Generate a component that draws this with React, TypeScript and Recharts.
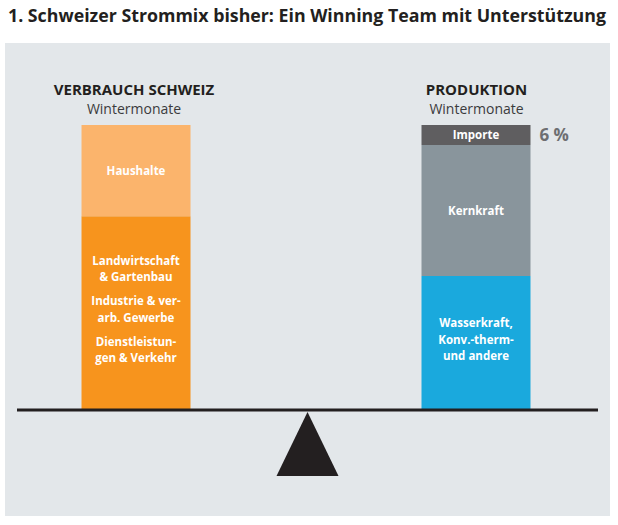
import React from 'react';
import { ComposedChart, Bar, XAxis, YAxis, ReferenceLine, LabelList } from 'recharts';

// ---- data (percent shares of winter electricity, bottom to top) ----
const categories = ['VERBRAUCH SCHWEIZ', 'PRODUKTION'];
const subtitles = ['Wintermonate', 'Wintermonate'];
const verbrauchRest = [68, 0];
const haushalte = [32, 0];
const wasserkraft = [0, 47];
const kernkraft = [0, 46];
const importe = [0, 7];
const importeShareLabel = ['', '6 %'];
const title = '1. Schweizer Strommix bisher: Ein Winning Team mit Unterstützung';

const restLabels: string[][][] = [
  [['Landwirtschaft', '& Gartenbau'], ['Industrie & ver-', 'arb. Gewerbe'], ['Dienstleistun-', 'gen & Verkehr']],
  [],
];
const haushalteLabels: string[][][] = [[['Haushalte']], []];
const wasserLabels: string[][][] = [[], [['Wasserkraft,', 'Konv.-therm-', 'und andere']]];
const kernLabels: string[][][] = [[], [['Kernkraft']]];
const importeLabels: string[][][] = [[], [['Importe']]];

const FONT = "'Open Sans', 'Noto Sans', sans-serif";
const LINE_H = 16.5;
const GROUP_GAP = 7.5;

const makeLabel = (groups: string[][][], extra?: string[]) => (props: any) => {
  const { x, y, width, height, value } = props;
  const index = categories.indexOf(value);
  const g = groups[index];
  if (!g || !g.length || !(height > 0)) return null;
  const lines: { t: string; dy: number }[] = [];
  let off = 0;
  g.forEach((grp, gi) => {
    if (gi > 0) off += GROUP_GAP;
    grp.forEach((t) => {
      lines.push({ t, dy: off });
      off += LINE_H;
    });
  });
  const total = off - LINE_H;
  const cx = x + width / 2;
  const cy = y + height / 2 - (lines.length > 1 ? 3.5 : 0);
  const side = extra ? extra[index] : '';
  return (
    <g>
      {lines.map((l, k) => (
        <text
          key={k}
          x={cx}
          y={cy - total / 2 + l.dy}
          dy="0.35em"
          textAnchor="middle"
          fill="#ffffff"
          fontSize={11.5}
          fontWeight={700}
          fontFamily={FONT}
        >
          {l.t}
        </text>
      ))}
      {side ? (
        <text
          x={x + width + 9}
          y={y + height / 2}
          dy="0.35em"
          textAnchor="start"
          fill="#6d6e71"
          fontSize={17}
          fontWeight={700}
          fontFamily={FONT}
        >
          {side}
        </text>
      ) : null}
    </g>
  );
};

const Beam = (props: any) => {
  const { x1, y1, x2 } = props;
  const mid = (x1 + x2) / 2;
  return (
    <g>
      <line x1={x1} y1={y1} x2={x2} y2={y1} stroke="#231f20" strokeWidth={3} />
      <polygon
        points={`${mid},${y1 + 2} ${mid - 31},${y1 + 66} ${mid + 31},${y1 + 66}`}
        fill="#231f20"
      />
    </g>
  );
};

export default function App() {
  const data = categories.map((c, i) => ({
    idx: i,
    name: c,
    rest: verbrauchRest[i],
    haushalte: haushalte[i],
    wasser: wasserkraft[i],
    kern: kernkraft[i],
    importe: importe[i],
  }));
  const headerX = [134, 476.5];

  return (
    <div style={{ position: 'absolute', left: 0, top: 0, width: 618, height: 525, background: '#ffffff', overflow: 'hidden' }}>
      <div style={{ position: 'absolute', left: 5, top: 43, width: 605, height: 473, background: '#e3e7ea' }} />
      <div style={{ position: 'absolute', left: 0, top: 0 }}>
        <ComposedChart width={618} height={525} data={data} margin={{ top: 125, right: 20, bottom: 115, left: 17 }}>
          <XAxis type="number" dataKey="idx" domain={[-0.3515, 1.3574]} ticks={[0, 1]} hide />
          <YAxis type="number" domain={[0, 100]} hide />
          <Bar dataKey="rest" stackId="a" fill="#f7941d" barSize={109} isAnimationActive={false}>
            <LabelList dataKey="name" content={makeLabel(restLabels)} />
          </Bar>
          <Bar dataKey="haushalte" stackId="a" fill="#fbb46c" barSize={109} isAnimationActive={false}>
            <LabelList dataKey="name" content={makeLabel(haushalteLabels)} />
          </Bar>
          <Bar dataKey="wasser" stackId="a" fill="#1aa9dd" barSize={109} isAnimationActive={false}>
            <LabelList dataKey="name" content={makeLabel(wasserLabels)} />
          </Bar>
          <Bar dataKey="kern" stackId="a" fill="#89959c" barSize={109} isAnimationActive={false}>
            <LabelList dataKey="name" content={makeLabel(kernLabels)} />
          </Bar>
          <Bar dataKey="importe" stackId="a" fill="#5f5e60" barSize={109} isAnimationActive={false}>
            <LabelList dataKey="name" content={makeLabel(importeLabels, importeShareLabel)} />
          </Bar>
          <ReferenceLine y={0} shape={Beam} />
        </ComposedChart>
      </div>
      <svg width={618} height={525} style={{ position: 'absolute', left: 0, top: 0, pointerEvents: 'none' }}>
        <text x={8} y={22} textLength={598} lengthAdjust="spacingAndGlyphs" fill="#231f20" fontSize={18} fontWeight={700} fontFamily={FONT}>
          {title}
        </text>
        {categories.map((c, i) => (
          <g key={c}>
            <text x={headerX[i]} y={95} textAnchor="middle" fill="#231f20" fontSize={15} fontWeight={700} fontFamily={FONT}>
              {c}
            </text>
            <text x={headerX[i]} y={114} textAnchor="middle" fill="#3b3b3d" fontSize={14} fontWeight={400} fontFamily={FONT}>
              {subtitles[i]}
            </text>
          </g>
        ))}
      </svg>
    </div>
  );
}
